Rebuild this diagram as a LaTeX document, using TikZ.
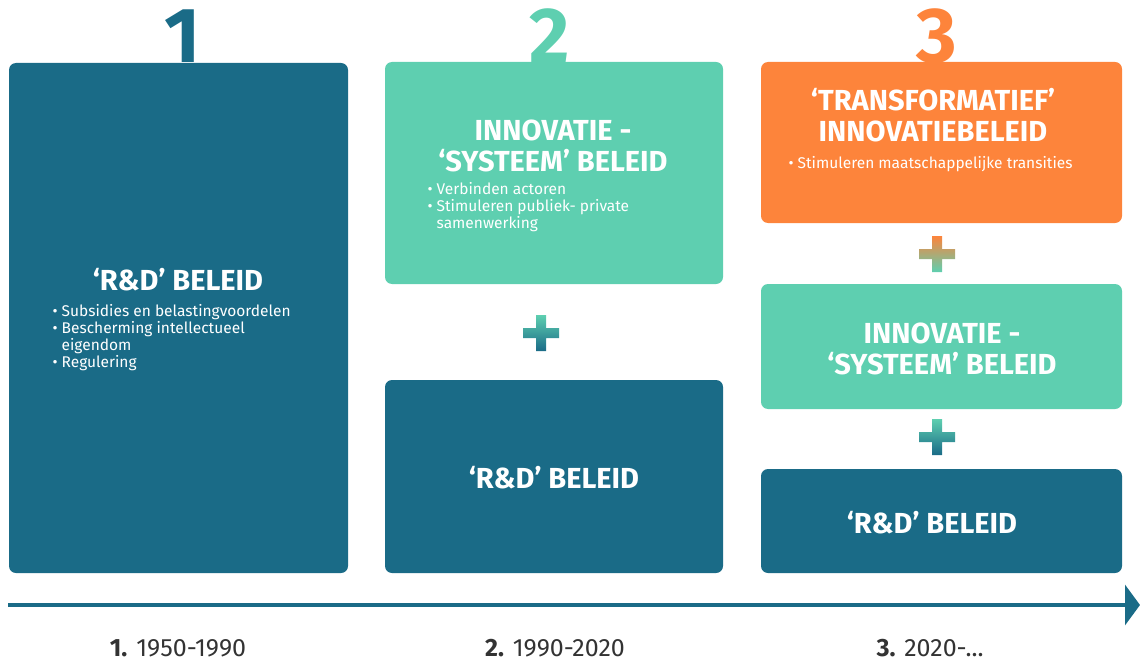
\documentclass[tikz,border=0pt]{standalone}
\usepackage{fontspec}
\setmainfont{Fira Sans}
\usetikzlibrary{arrows.meta,calc}
\definecolor{dark}{HTML}{1A6B87}
\definecolor{mint}{HTML}{5ECFB0}
\definecolor{orng}{HTML}{FD843B}
\definecolor{lbl}{HTML}{333333}
\tikzset{
  box/.style={rounded corners=7pt, draw=none},
  ttl/.style={text=white, font=\fontsize{29}{31}\selectfont\bfseries, align=center},
  bul/.style={text=white, font=\fontsize{15.5}{17}\selectfont, align=left, anchor=north west},
  bignum/.style={font=\fontsize{78}{80}\selectfont\bfseries, anchor=base},
  yr/.style={text=lbl, font=\fontsize{25}{28}\selectfont, anchor=base},
}
\newcommand{\bl}{\textbullet\ }
\newcommand{\plusshape}[3]{% center, top color, bottom color
  \shade[top color=#2, middle color=#2, bottom color=#3] ($(#1)+(-5,-18)$) -- ++(10,0) -- ++(0,13) -- ++(13,0) -- ++(0,10) -- ++(-13,0) -- ++(0,13) -- ++(-10,0) -- ++(0,-13) -- ++(-13,0) -- ++(0,-10) -- ++(13,0) -- cycle;
}
\begin{document}
\begin{tikzpicture}[x=1pt,y=-1pt]
\useasboundingbox (0,0) rectangle (1140,663);
% big numbers
\node[bignum, text=dark] (n1) at (183,63) {1};
\node[bignum, text=mint] (n2) at (550,63) {2};
\node[bignum, text=orng] (n3) at (937,63) {3};
% boxes
\fill[box, dark] (9,63) rectangle (348,573);
\fill[box, mint] (385,62) rectangle (723,284);
\fill[box, dark] (385,380) rectangle (723,573);
\fill[box, orng] (761,62) rectangle (1122,223);
\fill[box, mint] (761,284) rectangle (1122,409);
\fill[box, dark] (761,469) rectangle (1122,573);
% box 1
\node[ttl] (t1) at (178,280) {‘R\&D’ BELEID};
\node[bul] (b1) at (49,301) {\bl Subsidies en belastingvoordelen\\\bl Bescherming intellectueel\\\hphantom{\bl}eigendom\\\bl Regulering};
% box 2a
\node[ttl] (t2a) at (553,146) {INNOVATIE -\\‘SYSTEEM’ BELEID};
\node[bul] (b2a) at (424,179) {\bl Verbinden actoren\\\bl Stimuleren publiek- private\\\hphantom{\bl}samenwerking};
% box 2b
\node[ttl] (t2b) at (554,478) {‘R\&D’ BELEID};
% box 3a
\node[ttl] (t3a) at (933,115) {‘TRANSFORMATIEF’\\INNOVATIEBELEID};
\node[bul] (b3a) at (785,153) {\bl Stimuleren maatschappelijke transities};
% box 3b
\node[ttl] (t3b) at (942,349) {INNOVATIE -\\‘SYSTEEM’ BELEID};
% box 3c
\node[ttl] (t3c) at (932,523) {‘R\&D’ BELEID};
% plus signs
\coordinate (p1) at (541,333);
\coordinate (p2) at (937,254);
\coordinate (p3) at (937,437);
\plusshape{p1}{mint}{dark}
\plusshape{p2}{orng}{mint}
\plusshape{p3}{mint}{dark}
% timeline
\coordinate (a0) at (8,605);
\coordinate (a1) at (1140,605);
\draw[dark, line width=4.5pt, -{Triangle[length=15pt,width=40pt]}] (a0) -- (a1);
% year labels
\node[yr] (y1) at (178,656) {\textbf{1.} 1950-1990};
\node[yr] (y2) at (555,656) {\textbf{2.} 1990-2020};
\node[yr] (y3) at (930,656) {\textbf{3.} 2020-...};
\end{tikzpicture}
\end{document}
